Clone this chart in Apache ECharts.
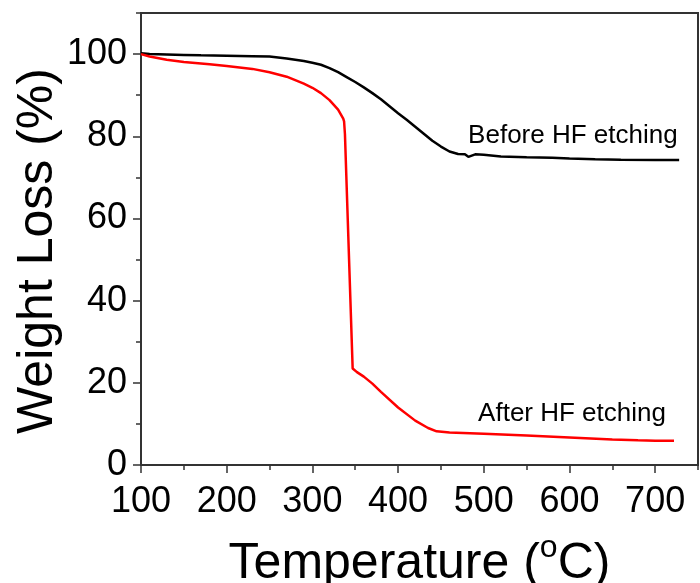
<!DOCTYPE html>
<html>
<head>
<meta charset="utf-8">
<script src="https://cdn.jsdelivr.net/npm/echarts@6/dist/echarts.min.js"></script>
<style>
html,body{margin:0;padding:0;background:#fff;}
#chart{width:700px;height:583px;}
</style>
</head>
<body>
<div id="chart"></div>
<script>
// Before HF etching (black)
const tempBefore = [100,110,130,150,170,200,230,250,270,290,300,310,320,330,340,350,360,370,380,390,400,410,420,430,440,450,460,470,478,482,490,500,520,550,580,600,630,660,700,728];
const weightBefore = [100.2,100.0,99.9,99.8,99.7,99.6,99.5,99.4,98.9,98.3,97.9,97.4,96.6,95.6,94.4,93.2,91.9,90.5,89.0,87.3,85.6,84.0,82.3,80.6,78.9,77.5,76.3,75.7,75.6,75.0,75.6,75.5,75.1,74.9,74.8,74.6,74.4,74.3,74.2,74.2];
// After HF etching (red)
const tempAfter = [100,110,130,150,180,200,230,250,270,290,300,310,320,330,336,337,338,347,352,360,370,380,400,420,435,445,460,500,550,600,650,680,700,722];
const weightAfter = [100.0,99.4,98.6,98.1,97.5,97.1,96.4,95.6,94.5,92.8,91.8,90.5,88.8,86.5,84.3,83.6,80.5,23.5,22.6,21.5,19.8,17.8,14.0,10.8,9.0,8.2,7.9,7.6,7.2,6.7,6.2,6.0,5.9,5.9];
const seriesNames = ['Before HF etching','After HF etching'];
const labelPos = [[604,80.0],[603,12.4]];
const xMin = 100, xMax = 750, xMajor = 100, xMinor = 50;
const yMin = 0, yMax = 110, yMajor = 20, yMinor = 10;

const FONT = '"Liberation Sans", Arial, sans-serif';
const AX = '#333';

const chart = echarts.init(document.getElementById('chart'), null, {renderer:'canvas'});
function pairs(xs, ys){ return xs.map((x,i)=>[x, ys[i]]); }

const option = {
  animation:false,
  backgroundColor:'#fff',
  grid:{left:141,right:2,top:13,bottom:118,containLabel:false,outerBoundsMode:'none',
        show:true,borderColor:AX,borderWidth:2,backgroundColor:'transparent'},
  xAxis:[
    {type:'value',min:xMin,max:xMax,interval:xMinor,position:'bottom',
     axisLine:{show:true,lineStyle:{color:AX,width:2}},
     axisTick:{show:true,inside:false,length:5,lineStyle:{color:AX,width:1.5}},
     axisLabel:{show:false},splitLine:{show:false}},
    {type:'value',min:xMin,max:xMax,interval:xMajor,position:'bottom',
     name:'Temperature ({sup|o}C)',nameLocation:'middle',nameGap:67,
     nameTextStyle:{fontFamily:FONT,fontSize:50,color:'#000',
       rich:{sup:{fontFamily:FONT,fontSize:32,color:'#000',verticalAlign:'top',padding:[0,0,32,0]}}},
     axisLine:{show:true,lineStyle:{color:AX,width:2}},
     axisTick:{show:true,inside:false,length:8,lineStyle:{color:AX,width:1.5}},
     axisLabel:{show:true,margin:19,fontFamily:FONT,fontSize:36,color:'#000',showMaxLabel:false},
     splitLine:{show:false}}
  ],
  yAxis:[
    {type:'value',min:yMin,max:yMax,interval:yMinor,position:'left',
     axisLine:{show:true,lineStyle:{color:AX,width:2}},
     axisTick:{show:true,inside:false,length:5,lineStyle:{color:AX,width:1.5}},
     axisLabel:{show:false},splitLine:{show:false}},
    {type:'value',min:yMin,max:yMax,interval:yMajor,position:'left',
     name:'Weight Loss (%)',nameLocation:'middle',nameGap:78,nameMoveOverlap:false,
     nameTextStyle:{fontFamily:FONT,fontSize:50,color:'#000',padding:[0,24,0,0]},
     axisLine:{show:true,lineStyle:{color:AX,width:2}},
     axisTick:{show:true,inside:false,length:8,lineStyle:{color:AX,width:1.5}},
     axisLabel:{show:true,margin:14,fontFamily:FONT,fontSize:36,color:'#000',showMaxLabel:false},
     splitLine:{show:false}}
  ],
  series:[
    {name:seriesNames[0],type:'line',xAxisIndex:1,yAxisIndex:1,showSymbol:false,symbol:'none',
     data:pairs(tempBefore,weightBefore),lineStyle:{color:'#000',width:2.5},itemStyle:{color:'#000'},
     markPoint:{symbol:'circle',symbolSize:1,itemStyle:{color:'rgba(0,0,0,0)'},
       label:{show:true,position:'inside',formatter:seriesNames[0],fontFamily:FONT,fontSize:26,color:'#000'},
       data:[{coord:labelPos[0]}]}},
    {name:seriesNames[1],type:'line',xAxisIndex:1,yAxisIndex:1,showSymbol:false,symbol:'none',
     data:pairs(tempAfter,weightAfter),lineStyle:{color:'#ff0000',width:2.5},itemStyle:{color:'#ff0000'},
     markPoint:{symbol:'circle',symbolSize:1,itemStyle:{color:'rgba(0,0,0,0)'},
       label:{show:true,position:'inside',formatter:seriesNames[1],fontFamily:FONT,fontSize:26,color:'#000'},
       data:[{coord:labelPos[1]}]}}
  ]
};
chart.setOption(option);
</script>
</body>
</html>
